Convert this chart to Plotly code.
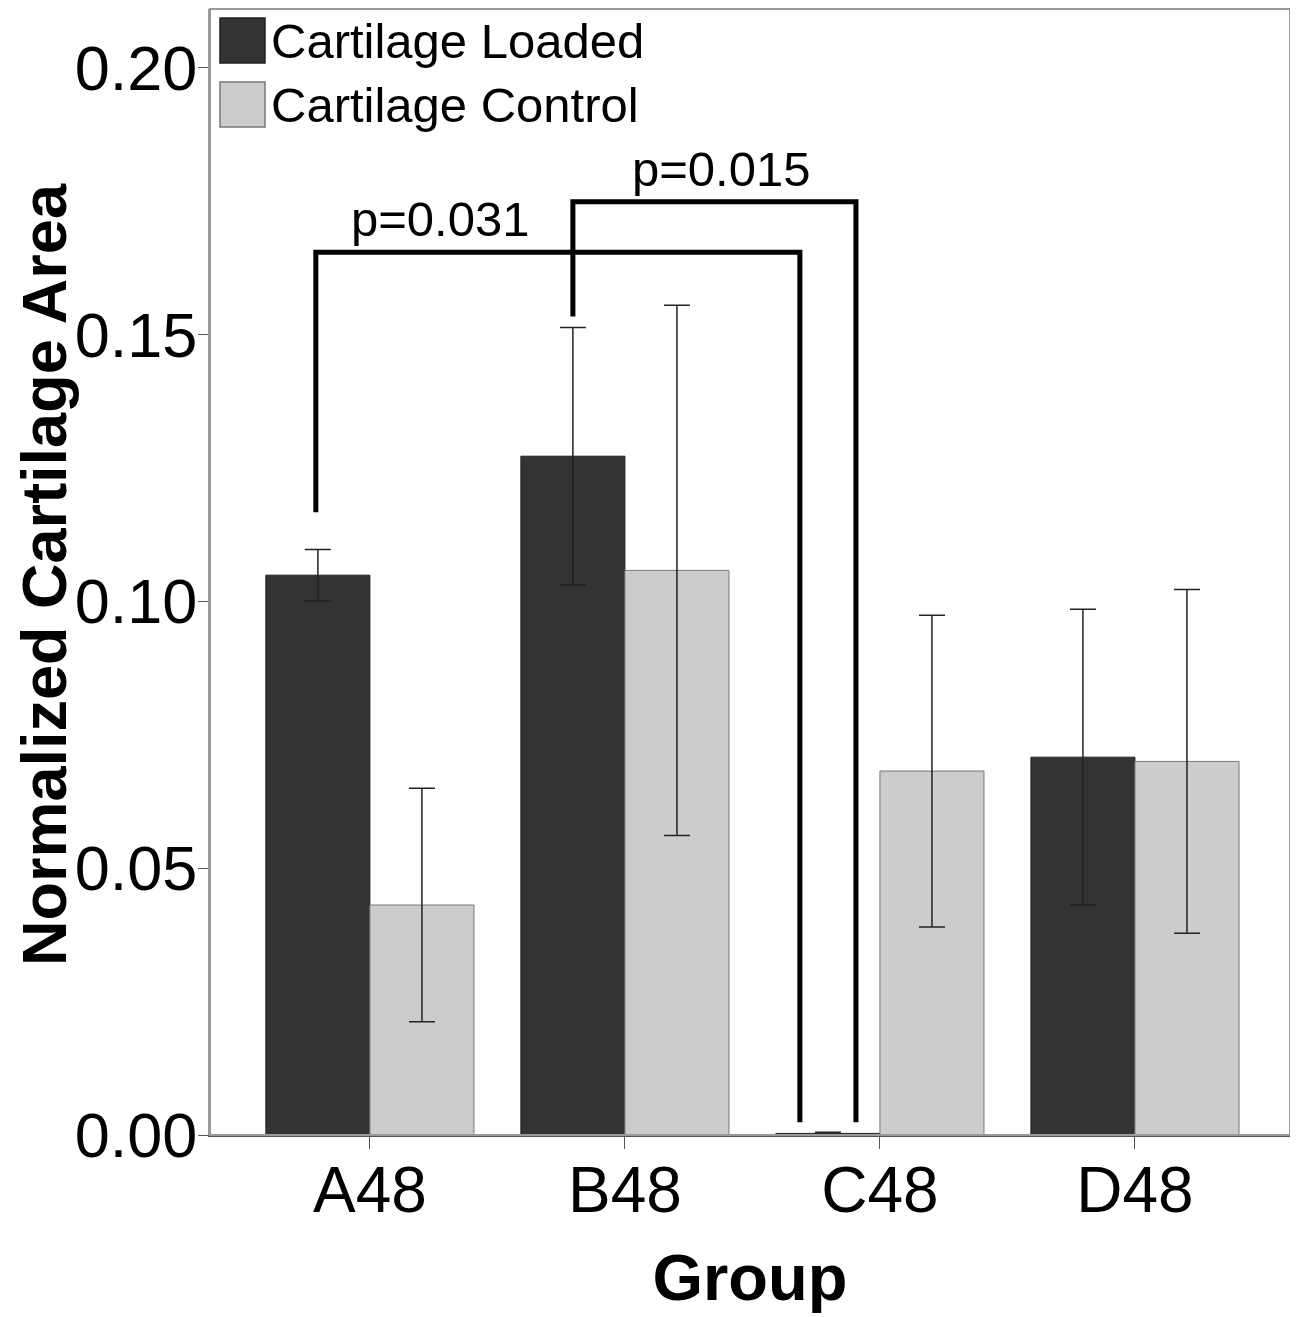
import plotly.graph_objects as go

groups = ["A48", "B48", "C48", "D48"]
loaded = [0.1049, 0.1272, 0.0003, 0.0708]
loaded_err = [0.0048, 0.0241, 0.0002, 0.0277]
control = [0.0431, 0.1058, 0.0682, 0.0700]
control_err = [0.0219, 0.0497, 0.0292, 0.0322]
series_names = ["Cartilage Loaded", "Cartilage Control"]
p_labels = ["p=0.031", "p=0.015"]
y_title = "Normalized Cartilage Area"
x_title = "Group"

FONT = "Liberation Sans, Arial, sans-serif"
DARK = "#333333"
LIGHT = "#cccccc"

fig = go.Figure()
fig.add_trace(go.Bar(
    x=groups, y=loaded, name=series_names[0],
    marker=dict(color=DARK, line=dict(color="#222222", width=1)),
    error_y=dict(type="data", array=loaded_err, color="#222222", thickness=1.5, width=13),
))
fig.add_trace(go.Bar(
    x=groups, y=control, name=series_names[1],
    marker=dict(color=LIGHT, line=dict(color="#777777", width=1)),
    error_y=dict(type="data", array=control_err, color="#222222", thickness=1.5, width=13),
))

# significance brackets (x in category index units, y in data units)
bracket_line = dict(color="black", width=5)
fig.add_shape(type="path",
              path="M -0.212,0.1167 L -0.212,0.1654 L 1.686,0.1654 L 1.686,0.0024",
              xref="x", yref="y", line=bracket_line)
fig.add_shape(type="path",
              path="M 0.796,0.1534 L 0.796,0.1749 L 1.906,0.1749 L 1.906,0.0024",
              xref="x", yref="y", line=bracket_line)
fig.add_annotation(x=0.278, y=0.1717, xref="x", yref="y", text=p_labels[0],
                   showarrow=False, font=dict(family=FONT, size=49, color="black"),
                   xanchor="center", yanchor="middle")
fig.add_annotation(x=1.38, y=0.1811, xref="x", yref="y", text=p_labels[1],
                   showarrow=False, font=dict(family=FONT, size=49, color="black"),
                   xanchor="center", yanchor="middle")

# page offset (body margin) compensation: plot area in figure coordinates
L, T, W, H = 202, 1, 1080, 1126
def px(x):
    return (x - 8 - L) / W
def py(y):
    return (T + H - (y - 8)) / H
legend_items = [(series_names[0], DARK, "#222222", 18), (series_names[1], LIGHT, "#777777", 82)]
for name, fill, edge, top in legend_items:
    fig.add_shape(type="rect", xref="paper", yref="paper",
                  x0=px(220), x1=px(265), y0=py(top + 45), y1=py(top),
                  fillcolor=fill, line=dict(color=edge, width=1.5))
    fig.add_annotation(xref="paper", yref="paper", x=px(269), y=py(top + 23),
                       text=name, showarrow=False, xanchor="left", yanchor="middle",
                       font=dict(family=FONT, size=49, color="black"))

# y-axis title as rotated annotation
fig.add_annotation(xref="paper", yref="paper", x=px(44), y=py(575),
                   text="<b>" + y_title + "</b>", textangle=-90, showarrow=False,
                   xanchor="center", yanchor="middle",
                   font=dict(family=FONT, size=63, color="black"))

fig.update_layout(
    width=1290, height=1309,
    margin=dict(l=L, r=1290 - L - W, t=T, b=1309 - T - H),
    paper_bgcolor="white", plot_bgcolor="white",
    barmode="group", bargap=0.184, bargroupgap=0,
    showlegend=False,
    font=dict(family=FONT, color="black"),
    xaxis=dict(
        range=[-0.627, 3.608],
        showline=True, linecolor="#555555", linewidth=1.5, mirror=False,
        ticks="outside", ticklen=12, tickcolor="#555555",
        ticklabelstandoff=-14,
        tickfont=dict(family=FONT, size=64, color="black"),
        title=dict(text="<b>" + x_title + "</b>", font=dict(family=FONT, size=65, color="black"), standoff=30),
        showgrid=False, zeroline=False,
    ),
    yaxis=dict(
        range=[0, 0.211],
        tickvals=[0, 0.05, 0.10, 0.15, 0.20], tickformat=".2f",
        showline=True, linecolor="#999999", linewidth=2, mirror=False,
        ticks="outside", ticklen=10, tickcolor="#555555",
        ticklabelstandoff=-12,
        tickfont=dict(family=FONT, size=63, color="black"),
        showgrid=False, zeroline=False,
    ),
)
# frame top and right
fig.add_shape(type="rect", xref="paper", yref="paper", x0=0, x1=1, y0=0, y1=1,
              line=dict(color="#999999", width=2), fillcolor="rgba(0,0,0,0)", layer="above")

fig.write_html("out.html")
